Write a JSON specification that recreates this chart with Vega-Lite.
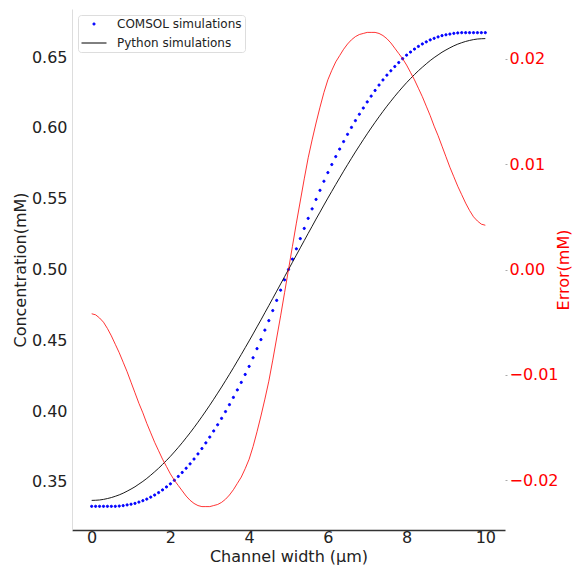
{
  "$schema": "https://vega.github.io/schema/vega-lite/v6.json",
  "width": 433,
  "height": 521,
  "autosize": {"type": "none"},
  "padding": {"left": 72, "top": 9, "right": 69, "bottom": 40},
  "background": "white",
  "config": {
    "view": {"stroke": null},
    "axis": {"grid": false, "labelFont": "DejaVu Sans", "titleFont": "DejaVu Sans", "titleFontWeight": "normal", "labelFontSize": 16, "titleFontSize": 16, "labelColor": "#222", "titleColor": "#222"},
    "legend": {"labelFont": "DejaVu Sans"}
  },
  "data": {"values": [
    {"x":0.0,"comsol":0.3328,"python":0.3370,"error":-0.0042},
    {"x":0.1,"comsol":0.3328,"python":0.3371,"error":-0.0043},
    {"x":0.2,"comsol":0.3328,"python":0.3373,"error":-0.0046},
    {"x":0.3,"comsol":0.3328,"python":0.3377,"error":-0.0050},
    {"x":0.4,"comsol":0.3328,"python":0.3383,"error":-0.0056},
    {"x":0.5,"comsol":0.3328,"python":0.3390,"error":-0.0063},
    {"x":0.6,"comsol":0.3328,"python":0.3399,"error":-0.0071},
    {"x":0.7,"comsol":0.3330,"python":0.3409,"error":-0.0079},
    {"x":0.8,"comsol":0.3333,"python":0.3421,"error":-0.0088},
    {"x":0.9,"comsol":0.3338,"python":0.3435,"error":-0.0097},
    {"x":1.0,"comsol":0.3343,"python":0.3450,"error":-0.0107},
    {"x":1.1,"comsol":0.3349,"python":0.3466,"error":-0.0117},
    {"x":1.2,"comsol":0.3358,"python":0.3485,"error":-0.0127},
    {"x":1.3,"comsol":0.3368,"python":0.3504,"error":-0.0136},
    {"x":1.4,"comsol":0.3379,"python":0.3525,"error":-0.0146},
    {"x":1.5,"comsol":0.3393,"python":0.3548,"error":-0.0155},
    {"x":1.6,"comsol":0.3408,"python":0.3572,"error":-0.0164},
    {"x":1.7,"comsol":0.3425,"python":0.3597,"error":-0.0172},
    {"x":1.8,"comsol":0.3444,"python":0.3624,"error":-0.0180},
    {"x":1.9,"comsol":0.3465,"python":0.3652,"error":-0.0187},
    {"x":2.0,"comsol":0.3487,"python":0.3681,"error":-0.0194},
    {"x":2.1,"comsol":0.3512,"python":0.3712,"error":-0.0200},
    {"x":2.2,"comsol":0.3539,"python":0.3744,"error":-0.0205},
    {"x":2.3,"comsol":0.3567,"python":0.3777,"error":-0.0210},
    {"x":2.4,"comsol":0.3597,"python":0.3812,"error":-0.0215},
    {"x":2.5,"comsol":0.3628,"python":0.3847,"error":-0.0219},
    {"x":2.6,"comsol":0.3662,"python":0.3884,"error":-0.0222},
    {"x":2.7,"comsol":0.3698,"python":0.3922,"error":-0.0224},
    {"x":2.8,"comsol":0.3736,"python":0.3961,"error":-0.0225},
    {"x":2.9,"comsol":0.3776,"python":0.4001,"error":-0.0225},
    {"x":3.0,"comsol":0.3817,"python":0.4042,"error":-0.0225},
    {"x":3.1,"comsol":0.3860,"python":0.4084,"error":-0.0224},
    {"x":3.2,"comsol":0.3904,"python":0.4127,"error":-0.0223},
    {"x":3.3,"comsol":0.3949,"python":0.4170,"error":-0.0221},
    {"x":3.4,"comsol":0.3997,"python":0.4215,"error":-0.0218},
    {"x":3.5,"comsol":0.4046,"python":0.4260,"error":-0.0214},
    {"x":3.6,"comsol":0.4097,"python":0.4306,"error":-0.0209},
    {"x":3.7,"comsol":0.4150,"python":0.4353,"error":-0.0203},
    {"x":3.8,"comsol":0.4203,"python":0.4400,"error":-0.0197},
    {"x":3.9,"comsol":0.4259,"python":0.4448,"error":-0.0189},
    {"x":4.0,"comsol":0.4316,"python":0.4496,"error":-0.0180},
    {"x":4.1,"comsol":0.4377,"python":0.4545,"error":-0.0168},
    {"x":4.2,"comsol":0.4441,"python":0.4595,"error":-0.0154},
    {"x":4.3,"comsol":0.4505,"python":0.4644,"error":-0.0139},
    {"x":4.4,"comsol":0.4572,"python":0.4695,"error":-0.0123},
    {"x":4.5,"comsol":0.4639,"python":0.4745,"error":-0.0106},
    {"x":4.6,"comsol":0.4710,"python":0.4796,"error":-0.0086},
    {"x":4.7,"comsol":0.4782,"python":0.4847,"error":-0.0065},
    {"x":4.8,"comsol":0.4854,"python":0.4898,"error":-0.0044},
    {"x":4.9,"comsol":0.4927,"python":0.4949,"error":-0.0022},
    {"x":5.0,"comsol":0.5000,"python":0.5000,"error":0.0},
    {"x":5.1,"comsol":0.5073,"python":0.5051,"error":0.0022},
    {"x":5.2,"comsol":0.5146,"python":0.5102,"error":0.0044},
    {"x":5.3,"comsol":0.5218,"python":0.5153,"error":0.0065},
    {"x":5.4,"comsol":0.5290,"python":0.5204,"error":0.0086},
    {"x":5.5,"comsol":0.5361,"python":0.5255,"error":0.0106},
    {"x":5.6,"comsol":0.5428,"python":0.5305,"error":0.0123},
    {"x":5.7,"comsol":0.5495,"python":0.5356,"error":0.0139},
    {"x":5.8,"comsol":0.5559,"python":0.5405,"error":0.0154},
    {"x":5.9,"comsol":0.5623,"python":0.5455,"error":0.0168},
    {"x":6.0,"comsol":0.5684,"python":0.5504,"error":0.0180},
    {"x":6.1,"comsol":0.5741,"python":0.5552,"error":0.0189},
    {"x":6.2,"comsol":0.5797,"python":0.5600,"error":0.0197},
    {"x":6.3,"comsol":0.5850,"python":0.5647,"error":0.0203},
    {"x":6.4,"comsol":0.5903,"python":0.5694,"error":0.0209},
    {"x":6.5,"comsol":0.5954,"python":0.5740,"error":0.0214},
    {"x":6.6,"comsol":0.6003,"python":0.5785,"error":0.0218},
    {"x":6.7,"comsol":0.6051,"python":0.5830,"error":0.0221},
    {"x":6.8,"comsol":0.6096,"python":0.5873,"error":0.0223},
    {"x":6.9,"comsol":0.6140,"python":0.5916,"error":0.0224},
    {"x":7.0,"comsol":0.6183,"python":0.5958,"error":0.0225},
    {"x":7.1,"comsol":0.6224,"python":0.5999,"error":0.0225},
    {"x":7.2,"comsol":0.6264,"python":0.6039,"error":0.0225},
    {"x":7.3,"comsol":0.6302,"python":0.6078,"error":0.0224},
    {"x":7.4,"comsol":0.6338,"python":0.6116,"error":0.0222},
    {"x":7.5,"comsol":0.6372,"python":0.6153,"error":0.0219},
    {"x":7.6,"comsol":0.6403,"python":0.6188,"error":0.0215},
    {"x":7.7,"comsol":0.6433,"python":0.6223,"error":0.0210},
    {"x":7.8,"comsol":0.6461,"python":0.6256,"error":0.0205},
    {"x":7.9,"comsol":0.6488,"python":0.6288,"error":0.0200},
    {"x":8.0,"comsol":0.6513,"python":0.6319,"error":0.0194},
    {"x":8.1,"comsol":0.6535,"python":0.6348,"error":0.0187},
    {"x":8.2,"comsol":0.6556,"python":0.6376,"error":0.0180},
    {"x":8.3,"comsol":0.6575,"python":0.6403,"error":0.0172},
    {"x":8.4,"comsol":0.6592,"python":0.6428,"error":0.0164},
    {"x":8.5,"comsol":0.6607,"python":0.6452,"error":0.0155},
    {"x":8.6,"comsol":0.6621,"python":0.6475,"error":0.0146},
    {"x":8.7,"comsol":0.6632,"python":0.6496,"error":0.0136},
    {"x":8.8,"comsol":0.6642,"python":0.6515,"error":0.0127},
    {"x":8.9,"comsol":0.6651,"python":0.6534,"error":0.0117},
    {"x":9.0,"comsol":0.6657,"python":0.6550,"error":0.0107},
    {"x":9.1,"comsol":0.6662,"python":0.6565,"error":0.0097},
    {"x":9.2,"comsol":0.6667,"python":0.6579,"error":0.0088},
    {"x":9.3,"comsol":0.6670,"python":0.6591,"error":0.0079},
    {"x":9.4,"comsol":0.6672,"python":0.6601,"error":0.0071},
    {"x":9.5,"comsol":0.6672,"python":0.6610,"error":0.0063},
    {"x":9.6,"comsol":0.6672,"python":0.6617,"error":0.0056},
    {"x":9.7,"comsol":0.6672,"python":0.6623,"error":0.0050},
    {"x":9.8,"comsol":0.6672,"python":0.6627,"error":0.0046},
    {"x":9.9,"comsol":0.6672,"python":0.6629,"error":0.0043},
    {"x":10.0,"comsol":0.6672,"python":0.6630,"error":0.0042}
  ]},
  "layer": [
    {
      "layer": [
        {
          "mark": {"type": "point", "filled": false, "fill": "#0000ff", "fillOpacity": 1, "strokeWidth": 1, "opacity": 1},
          "encoding": {
            "x": {"field": "x", "type": "quantitative", "scale": {"domain": [-0.5, 10.5], "nice": false, "zero": false},
                  "axis": {"values": [0, 2, 4, 6, 8, 10], "format": "d", "title": "Channel width (μm)", "domainColor": "#333", "domainWidth": 1.3, "ticks": false, "labelPadding": -1, "titlePadding": 3}},
            "y": {"field": "comsol", "type": "quantitative", "scale": {"domain": [0.3161, 0.6839], "nice": false, "zero": false},
                  "axis": {"values": [0.35, 0.4, 0.45, 0.5, 0.55, 0.6, 0.65], "format": ".2f", "title": "Concentration(mM)", "domainColor": "#ddd", "ticks": false, "labelPadding": 5, "titlePadding": 3}},
            "color": {"datum": "COMSOL simulations", "type": "nominal",
                      "scale": {"domain": ["COMSOL simulations", "Python simulations"], "range": ["#0000ff", "#000000"]},
                      "legend": {"orient": "none", "legendX": 6, "legendY": 6, "title": null, "labelFontSize": 12, "labelColor": "#222", "labelOffset": 10, "padding": 3, "rowPadding": 0, "symbolStrokeWidth": 1, "strokeColor": "#dddddd", "fillColor": "white", "cornerRadius": 3}},
            "shape": {"datum": "COMSOL simulations", "type": "nominal",
                      "scale": {"domain": ["COMSOL simulations", "Python simulations"], "range": ["circle", "stroke"]},
                      "legend": {"orient": "none", "legendX": 6, "legendY": 6, "title": null, "labelFontSize": 12, "labelColor": "#222", "labelOffset": 10, "padding": 3, "rowPadding": 0, "symbolStrokeWidth": 1, "strokeColor": "#dddddd", "fillColor": "white", "cornerRadius": 3}},
            "size": {"datum": "COMSOL simulations", "type": "ordinal",
                     "scale": {"type": "ordinal", "domain": ["COMSOL simulations", "Python simulations"], "range": [5, 625]},
                     "legend": {"orient": "none", "legendX": 6, "legendY": 6, "title": null, "labelFontSize": 12, "labelColor": "#222", "labelOffset": 10, "padding": 3, "rowPadding": 0, "symbolStrokeWidth": 1, "strokeColor": "#dddddd", "fillColor": "white", "cornerRadius": 3}}
          }
        },
        {
          "mark": {"type": "line", "strokeWidth": 0.9},
          "encoding": {
            "x": {"field": "x", "type": "quantitative", "scale": {"domain": [-0.5, 10.5], "nice": false, "zero": false}},
            "y": {"field": "python", "type": "quantitative", "scale": {"domain": [0.3161, 0.6839], "nice": false, "zero": false}},
            "color": {"datum": "Python simulations", "type": "nominal"}
          }
        }
      ]
    },
    {
      "mark": {"type": "line", "color": "#ff0000", "strokeWidth": 0.8},
      "encoding": {
        "x": {"field": "x", "type": "quantitative", "scale": {"domain": [-0.5, 10.5], "nice": false, "zero": false}},
        "y": {"field": "error", "type": "quantitative", "scale": {"domain": [-0.02472, 0.02472], "nice": false, "zero": false},
              "axis": {"orient": "right", "values": [-0.02, -0.01, 0, 0.01, 0.02], "format": ".2f", "title": "Error(mM)", "titleAngle": 270, "domain": false, "tickSize": 2, "tickColor": "#aaaaaa", "labelPadding": 2, "labelColor": "#ff0000", "titleColor": "#ff0000", "titlePadding": 13}}
      }
    }
  ],
  "resolve": {"scale": {"y": "independent"}}
}
